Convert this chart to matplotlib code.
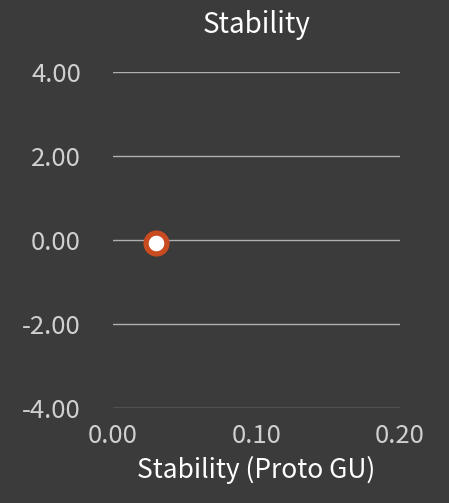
import matplotlib
matplotlib.use("Agg")
import matplotlib.pyplot as plt
from matplotlib.ticker import FormatStrFormatter

plt.rcParams['font.family'] = ['Noto Sans CJK KR', 'DejaVu Sans']

# data
x_vals = [0.03]
y_vals = [-0.07]
x_ticks = [0.0, 0.1, 0.2]
y_ticks = [-4, -2, 0, 2, 4]

bg = '#3b3b3b'
fig = plt.figure(figsize=(4.49, 5.03), dpi=100, facecolor=bg)
ax = fig.add_axes([113/449, 1-408/503, 287/449, 336/503])
ax.set_facecolor(bg)

ax.scatter(x_vals, y_vals, s=225, facecolor='white', edgecolor='#c84b22',
           linewidth=3.8, zorder=3, clip_on=False)

ax.set_xlim(0, 0.2)
ax.set_ylim(-4, 4)
ax.set_xticks(x_ticks)
ax.set_yticks(y_ticks)
ax.xaxis.set_major_formatter(FormatStrFormatter('%.2f'))
ax.yaxis.set_major_formatter(FormatStrFormatter('%.2f'))
ax.grid(axis='y', color='#b0b0b0', linewidth=1)
ax.set_axisbelow(True)
for s in ax.spines.values():
    s.set_visible(False)
ax.tick_params(axis='x', length=0, pad=11, labelsize=18.5, colors='#d0d0d0')
ax.tick_params(axis='y', length=0, pad=23, labelsize=18.5, colors='#d0d0d0')

ax.set_title('Stability', color='white', fontsize=20, pad=28)
ax.set_xlabel('Stability (Proto GU)', color='white', fontsize=19, labelpad=5)

fig.savefig('out.png', dpi=100, facecolor=bg)
